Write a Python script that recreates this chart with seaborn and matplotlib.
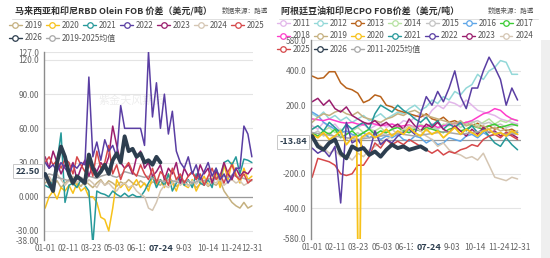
import numpy as np
import pandas as pd
import matplotlib
matplotlib.use("Agg")
import matplotlib.pyplot as plt
from matplotlib.lines import Line2D
from matplotlib.patches import Rectangle
import seaborn as sns

# --- tick days / labels shared by both panels ---
tick_days = [0, 41, 81, 122, 163, 204, 245, 286, 327, 364]
tick_labels = ["01-01", "02-11", "03-23", "05-03", "06-13", "07-24", "9-03", "10-14", "11-24", "12-31"]

# --- left panel: RBD Olein FOB spread, weekly samples ---
days_l = list(range(0, 365, 7))
l2019 = [12,15,10,14,8,12,15,10,13,9,14,11,8,12,15,10,14,12,9,13,11,15,12,10,14,11,9,13,12,10,15,11,13,9,12,14,10,12,8,11,13,9,12,10,14,5,0,-5,-8,-10,-5,-10,-8]
l2020 = [-10,0,5,-2,8,5,10,3,12,5,8,0,0,-5,-18,-20,-30,-10,15,8,12,5,10,15,8,12,5,18,10,15,8,20,12,5,15,10,8,15,5,12,18,10,15,22,8,28,15,30,20,12,25,15,18]
l2021 = [10,8,15,30,56,-5,10,12,8,15,10,5,-42,5,3,2,0,5,2,0,3,0,2,0,0,5,12,18,8,15,10,20,5,12,18,10,15,8,20,12,10,15,8,25,15,30,32,28,35,20,33,32,30]
l2022 = [30,25,28,22,30,25,20,28,25,30,28,105,35,48,32,50,40,45,35,80,60,60,60,60,60,45,127,70,100,60,90,55,75,40,30,25,35,20,28,15,22,30,18,25,15,20,12,18,25,25,62,55,35]
l2023 = [35,25,40,30,20,28,22,30,15,25,32,18,28,22,30,25,35,62,45,30,25,28,20,35,40,25,30,18,22,28,15,25,20,30,12,25,18,22,15,28,20,25,12,22,18,30,20,15,25,18,22,20,25]
l2024 = [15,18,12,20,15,10,14,18,12,16,10,15,12,8,14,10,12,8,5,10,12,8,10,5,2,0,-10,-12,-5,5,10,8,12,15,10,13,9,14,11,15,12,10,14,12,16,10,13,15,12,14,10,12,15]
l2025 = [30,35,28,32,25,33,30,20,35,28,22,30,18,40,25,30,45,20,28,15,25,30,22,18,28,20,15,25,12,22,18,10,25,15,20,12,18,22,15,20,10,18,25,15,20,12,22,28,18,15,20,12,15]
l2026 = [20,12,5,30,44,35,20,12,18,15,12,37,25,18,22,28,20,32,38,30,53,40,42,35,38,30,32,28,35,30]
l_avg = [18,20,19,17,16,15,14,15,16,17,15,18,17,16,18,19,20,18,17,19,22,21,20,19,18,17,18,16,15,14,13,15,14,13,12,13,14,12,13,15,14,16,15,17,16,18,17,19,18,17,16,15,14]

# --- right panel: Argentina soyoil vs Indonesia CPO FOB spread, 10-day samples ---
days_r = list(range(0, 361, 10))
r2011 = [80,60,100,70,90,50,80,60,70,90,60,80,100,70,90,80,110,100,130,150,120,170,200,180,220,210,190,230,200,170,160,150,140,120,110,100,90]
r2012 = [150,130,160,120,140,110,130,100,120,140,110,130,150,120,140,160,150,180,200,170,190,230,210,250,230,280,260,300,320,380,350,400,420,460,450,380,380]
r2013 = [370,355,360,395,395,330,300,290,270,215,230,260,250,200,190,170,160,150,140,130,150,120,110,130,100,110,90,100,80,95,70,80,60,75,50,60,40]
r2014 = [60,80,50,70,40,60,30,50,70,40,60,50,70,40,60,80,50,70,60,90,70,80,60,90,80,100,70,90,110,80,100,120,90,110,100,120,110]
r2015 = [30,50,20,40,10,30,0,20,40,10,30,50,20,40,60,30,50,40,60,80,50,70,60,80,100,70,90,80,100,110,90,100,80,90,70,80,90]
r2016 = [160,140,100,80,60,40,50,30,20,40,10,30,0,20,10,30,0,-10,20,10,-20,0,-30,-20,10,0,-10,20,30,10,40,20,30,40,20,30,40]
r2017 = [40,20,50,30,60,10,30,50,20,40,60,30,50,40,60,70,50,40,60,50,70,60,50,40,60,70,50,60,80,70,60,80,90,70,80,90,80]
r2018 = [120,115,110,120,110,100,95,100,90,85,95,90,80,85,90,75,80,85,70,80,75,90,70,80,85,95,90,100,110,130,150,160,180,170,140,120,110]
r2019 = [100,130,150,140,160,170,150,140,160,130,120,110,100,120,130,150,140,160,170,150,140,130,120,110,100,90,110,80,90,70,80,60,70,50,60,40,50]
r2020_days = [0,10,20,30,40,50,60,70,78,80,84,86,90,100,110,120,130,140,150,160,170,180,190,200,210,220,230,240,250,260,270,280,290,300,310,320,330,340,350,360]
r2020 = [30,10,40,0,20,50,-30,10,20,-600,-600,10,20,40,10,30,60,20,50,30,70,40,20,60,30,50,10,40,70,30,60,40,20,50,60,30,40,20,50,30]
r2021 = [60,80,50,100,70,40,90,60,80,100,60,150,200,180,160,200,170,150,120,100,130,80,110,60,90,70,100,50,80,40,60,20,-20,-40,10,-30,-60]
r2022 = [-50,-80,-60,-100,-40,-370,100,-20,0,-50,-80,50,-30,0,-20,20,40,60,30,150,250,200,280,220,300,400,250,180,300,300,400,480,420,350,200,300,230]
r2023 = [220,240,200,230,180,160,190,140,120,100,90,110,80,100,70,90,60,120,80,50,90,70,100,60,40,80,50,20,60,30,70,40,50,20,40,30,10]
r2024 = [0,-20,-50,-80,-60,-100,-90,-120,-80,-100,-60,-40,-20,0,20,40,60,80,70,50,20,0,-40,-20,-60,-80,-90,-110,-100,-120,-80,-150,-220,-230,-240,-220,-230]
r2025 = [-220,-110,-120,-130,-150,-200,-210,-200,-150,-150,-100,-20,-50,0,-30,-10,-30,0,-20,-40,-60,-80,-60,-90,-70,-80,-60,-50,-30,-40,0,20,30,10,40,20,0]
r2026 = [20,-40,-60,-20,0,-80,-110,-40,-60,-50,-90,-70,-100,-60,-30,-50,-40,-60,-50,-40,-60]
r_avg = [40,35,30,25,20,15,10,5,0,5,10,15,20,25,30,35,30,25,20,25,30,35,40,45,40,35,30,35,40,45,50,45,40,35,30,35,30]

colors = {
    '2011': '#e2b6ea', '2012': '#93d8d8', '2013': '#b8621b', '2014': '#b7e2a2',
    '2015': '#c4c4c4', '2016': '#5ea6e8', '2017': '#3ccc35', '2018': '#ff3dcb',
    '2019': '#c5b07f', '2020': '#f7c21b', '2021': '#26999a', '2022': '#5a3ea3',
    '2023': '#9a1d6d', '2024': '#d5c6b3', '2025': '#d6484a', '2026': '#2d3e4f',
    'avg': '#a8a8a8',
}

sns.set_theme(style="white")
plt.rcParams['font.family'] = ['Noto Sans CJK SC', 'DejaVu Sans']
plt.rcParams['axes.unicode_minus'] = False

W, H = 550, 258
fig = plt.figure(figsize=(W / 100, H / 100), dpi=100)
ax_l = fig.add_axes([44 / W, 1 - 240 / H, 209 / W, 188 / H])
ax_r = fig.add_axes([311 / W, 1 - 239 / H, 210 / W, 199 / H])


def draw(ax, x, y, key, lw=1.0, z=2):
    sns.lineplot(x=x, y=y, ax=ax, color=colors[key], linewidth=lw,
                 estimator=None, sort=False, zorder=z, legend=False)


# left lines
left_series = [('2019', l2019), ('2020', l2020), ('2021', l2021), ('2024', l2024),
               ('avg', l_avg), ('2023', l2023), ('2025', l2025), ('2022', l2022)]
for key, vals in left_series:
    draw(ax_l, days_l, vals, key, lw=1.1)
draw(ax_l, days_l[:len(l2026)], l2026, '2026', lw=2.8, z=3)

# right lines
right_series = [('2011', r2011), ('2012', r2012), ('2013', r2013), ('2014', r2014),
                ('2015', r2015), ('2016', r2016), ('2017', r2017), ('2018', r2018),
                ('2019', r2019), ('2021', r2021), ('2023', r2023), ('2024', r2024),
                ('2025', r2025), ('avg', r_avg), ('2022', r2022)]
for key, vals in right_series:
    draw(ax_r, days_r, vals, key, lw=1.1)
draw(ax_r, r2020_days, r2020, '2020', lw=1.3)
draw(ax_r, days_r[:len(r2026)], r2026, '2026', lw=2.8, z=3)


def style(ax, ylim, yticks, ylabels, mark_val, mark_txt):
    ax.set_xlim(-2, 366)
    ax.set_ylim(*ylim)
    ax.set_yticks(yticks)
    ax.set_yticklabels(ylabels)
    ax.set_xticks(tick_days)
    ax.set_xticklabels(tick_labels)
    ax.set_xlabel('')
    ax.set_ylabel('')
    for s in ['top', 'right', 'bottom']:
        ax.spines[s].set_visible(False)
    ax.spines['left'].set_color('#8c8c8c')
    ax.spines['left'].set_linewidth(1.0)
    ax.yaxis.grid(True, color='#e4e4e4', linewidth=0.8)
    ax.set_axisbelow(True)
    ax.axhline(0, color='#9a9a9a', linewidth=0.9, zorder=1)
    ax.tick_params(axis='y', labelsize=6, colors='#666666', length=2.5, width=0.8, pad=1)
    ax.tick_params(axis='x', labelsize=6, colors='#666666', length=0, pad=3)
    lab = ax.get_xticklabels()[5]
    lab.set_fontweight('bold')
    lab.set_color('#2d3e4f')
    lab.set_fontsize(6.5)
    lab.set_bbox(dict(facecolor='white', edgecolor='none', pad=2.5))
    ax.annotate(mark_txt, xy=(-0.02, mark_val), xycoords=('axes fraction', 'data'),
                ha='right', va='center', fontsize=6.5, fontweight='bold', color='#2d3e4f',
                bbox=dict(boxstyle='square,pad=0.25', facecolor='white', edgecolor='#c8c8c8', linewidth=0.7),
                zorder=10, annotation_clip=False)
    ax.set_facecolor('none')


style(ax_l, (-38, 127), [-38, -30, 0, 30, 60, 90, 120, 127],
      ['-38.00', '-30.00', '0.000', '30.00', '60.00', '90.00', '120.0', '127.0'], 22.5, '22.50')
style(ax_r, (-580, 580), [-580, -400, -200, 200, 400, 580],
      ['-580.0', '-400.0', '-200.0', '200.0', '400.0', '580.0'], -13.84, '-13.84')

# watermark
ax_l.text(0.42, 0.74, '紫金天风期货', transform=ax_l.transAxes, fontsize=8,
          color='#000000', alpha=0.07, ha='center', va='center')

# titles
fig.text(15 / W, 1 - 11 / H, '马来西亚和印尼RBD Olein FOB 价差（美元/吨）', fontsize=6.5,
         fontweight='bold', color='#333333', va='center')
fig.text(222 / W, 1 - 11 / H, '数据来源：路透', fontsize=4.8, color='#555555', va='center')
fig.text(281 / W, 1 - 11 / H, '阿根廷豆油和印尼CPO FOB价差（美元/吨）', fontsize=6.5,
         fontweight='bold', color='#333333', va='center')
fig.text(488 / W, 1 - 11 / H, '数据来源：路透', fontsize=4.8, color='#555555', va='center')
fig.add_artist(Line2D([12 / W, 256 / W], [1 - 19 / H, 1 - 19 / H], color='#e0e0e0', lw=0.7))
fig.add_artist(Line2D([279 / W, 538 / W], [1 - 19 / H, 1 - 19 / H], color='#e0e0e0', lw=0.7))
fig.add_artist(Rectangle((541 / W, 0), 9 / W, 1 - 40 / H, transform=fig.transFigure,
                         facecolor='#efefef', edgecolor='none'))


def handles(keys):
    return [Line2D([0], [0], color=colors[k], lw=1.0, marker='o', markersize=4,
                   markerfacecolor='white', markeredgewidth=0.9) for k in keys]


def legend_row(keys, names, x, y):
    leg = fig.legend(handles(keys), names, loc='center left',
                     bbox_to_anchor=(x / W, 1 - y / H), ncol=len(keys), fontsize=5.8,
                     frameon=False, handlelength=1.6, handletextpad=0.35,
                     columnspacing=0.45, borderaxespad=0, borderpad=0.1)
    for t in leg.get_texts():
        t.set_color('#555555')
    return leg


legend_row(['2019', '2020', '2021', '2022', '2023', '2024', '2025'],
           ['2019', '2020', '2021', '2022', '2023', '2024', '2025'], 8, 25)
legend_row(['2026', 'avg'], ['2026', '2019-2025均值'], 8, 38)

legend_row(['2011', '2012', '2013', '2014', '2015', '2016', '2017'],
           ['2011', '2012', '2013', '2014', '2015', '2016', '2017'], 276, 23)
legend_row(['2018', '2019', '2020', '2021', '2022', '2023', '2024'],
           ['2018', '2019', '2020', '2021', '2022', '2023', '2024'], 276, 36)
legend_row(['2025', '2026', 'avg'], ['2025', '2026', '2011-2025均值'], 276, 49)

fig.savefig('out.png', dpi=100)
